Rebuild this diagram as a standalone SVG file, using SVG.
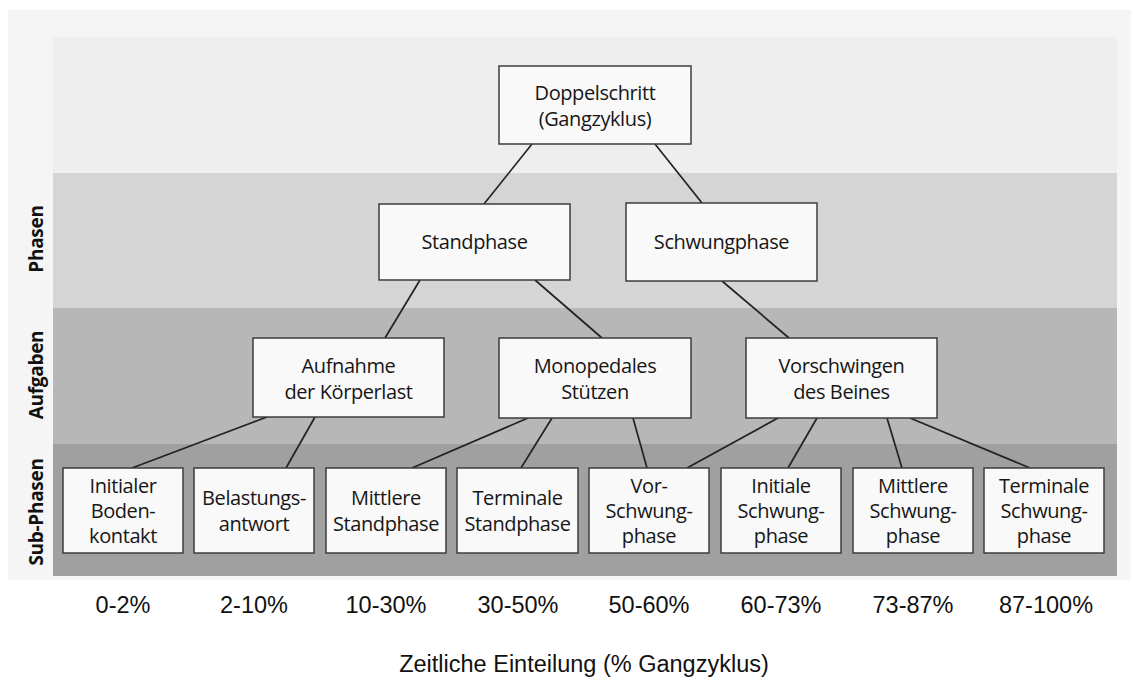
<svg xmlns="http://www.w3.org/2000/svg" width="1131" height="677" viewBox="0 0 1131 677">
<style>
.box{fill:#f9f9f9;stroke:#3c3c3c;stroke-width:1.5}
.t{font-family:"Open Sans","Noto Sans",sans-serif;font-size:20px;letter-spacing:-0.4px;fill:#161616;text-anchor:middle}
.side{font-family:"Open Sans","Noto Sans",sans-serif;font-size:19px;font-weight:bold;letter-spacing:-0.3px;fill:#111;text-anchor:middle}
.pct{font-family:"Liberation Sans",Arial,sans-serif;font-size:23.5px;fill:#111;text-anchor:middle}
.con line{stroke:#222;stroke-width:1.7}
</style>
<rect x="0" y="0" width="1131" height="677" fill="#ffffff"/>
<rect x="8" y="10" width="1123" height="570" fill="#f5f5f5"/>
<rect x="53" y="37" width="1064" height="136" fill="#eeeeee"/>
<rect x="53" y="173" width="1064" height="135" fill="#d5d5d5"/>
<rect x="53" y="308" width="1064" height="136" fill="#b7b7b7"/>
<rect x="53" y="444" width="1064" height="132" fill="#a0a0a0"/>
<g id="bandlabels">
<text class="side" transform="translate(43,239) rotate(-90)">Phasen</text>
<text class="side" transform="translate(43,375) rotate(-90)">Aufgaben</text>
<text class="side" transform="translate(43,512) rotate(-90)">Sub-Phasen</text>
</g>
<g class="con" id="connectors">
<line x1="532" y1="144" x2="484" y2="204"/>
<line x1="655" y1="144" x2="702" y2="203"/>
<line x1="420" y1="280" x2="385" y2="338"/>
<line x1="535" y1="280" x2="602" y2="338"/>
<line x1="722" y1="281" x2="789" y2="338"/>
<line x1="267" y1="417" x2="132" y2="468"/>
<line x1="315" y1="417" x2="286" y2="468"/>
<line x1="528" y1="418" x2="412" y2="468"/>
<line x1="552" y1="418" x2="521" y2="468"/>
<line x1="633" y1="418" x2="647" y2="468"/>
<line x1="778" y1="418" x2="687" y2="468"/>
<line x1="817" y1="418" x2="788" y2="468"/>
<line x1="887" y1="418" x2="902" y2="468"/>
<line x1="910" y1="418" x2="1030" y2="468"/>
</g>
<g id="doppelschritt"><rect class="box" x="499" y="66" width="192" height="78"/><text class="t" x="595" y="100">Doppelschritt</text><text class="t" x="595" y="126">(Gangzyklus)</text></g>
<g id="standphase"><rect class="box" x="379" y="204" width="191" height="76"/><text class="t" x="474.5" y="249">Standphase</text></g>
<g id="schwungphase"><rect class="box" x="626" y="203" width="191" height="78"/><text class="t" x="721.5" y="249">Schwungphase</text></g>
<g id="aufnahme"><rect class="box" x="253" y="338" width="191" height="79"/><text class="t" x="348.5" y="373">Aufnahme</text><text class="t" x="348.5" y="399">der Körperlast</text></g>
<g id="monopedales"><rect class="box" x="499" y="338" width="192" height="80"/><text class="t" x="595" y="373">Monopedales</text><text class="t" x="595" y="399">Stützen</text></g>
<g id="vorschwingen"><rect class="box" x="746" y="338" width="191" height="80"/><text class="t" x="841.5" y="373">Vorschwingen</text><text class="t" x="841.5" y="399">des Beines</text></g>
<g id="initialer-bodenkontakt"><rect class="box" x="63" y="468" width="120" height="85"/><text class="t" x="123" y="493">Initialer</text><text class="t" x="123" y="518">Boden-</text><text class="t" x="123" y="543">kontakt</text></g>
<g id="belastungsantwort"><rect class="box" x="194" y="468" width="120" height="85"/><text class="t" x="254" y="505">Belastungs-</text><text class="t" x="254" y="531">antwort</text></g>
<g id="mittlere-standphase"><rect class="box" x="326" y="468" width="120" height="85"/><text class="t" x="386" y="505">Mittlere</text><text class="t" x="386" y="531">Standphase</text></g>
<g id="terminale-standphase"><rect class="box" x="457" y="468" width="121" height="85"/><text class="t" x="517.5" y="505">Terminale</text><text class="t" x="517.5" y="531">Standphase</text></g>
<g id="vorschwungphase"><rect class="box" x="589" y="468" width="120" height="85"/><text class="t" x="649" y="493">Vor-</text><text class="t" x="649" y="518">Schwung-</text><text class="t" x="649" y="543">phase</text></g>
<g id="initiale-schwungphase"><rect class="box" x="721" y="468" width="120" height="85"/><text class="t" x="781" y="493">Initiale</text><text class="t" x="781" y="518">Schwung-</text><text class="t" x="781" y="543">phase</text></g>
<g id="mittlere-schwungphase"><rect class="box" x="853" y="468" width="120" height="85"/><text class="t" x="913" y="493">Mittlere</text><text class="t" x="913" y="518">Schwung-</text><text class="t" x="913" y="543">phase</text></g>
<g id="terminale-schwungphase"><rect class="box" x="984" y="468" width="120" height="85"/><text class="t" x="1044" y="493">Terminale</text><text class="t" x="1044" y="518">Schwung-</text><text class="t" x="1044" y="543">phase</text></g>
<g id="percentages">
<text class="pct" x="123" y="613">0-2%</text>
<text class="pct" x="254" y="613">2-10%</text>
<text class="pct" x="386" y="613">10-30%</text>
<text class="pct" x="518" y="613">30-50%</text>
<text class="pct" x="649" y="613">50-60%</text>
<text class="pct" x="781" y="613">60-73%</text>
<text class="pct" x="913" y="613">73-87%</text>
<text class="pct" x="1046" y="613">87-100%</text>
</g>
<text class="pct" x="584" y="672">Zeitliche Einteilung (% Gangzyklus)</text>
</svg>
